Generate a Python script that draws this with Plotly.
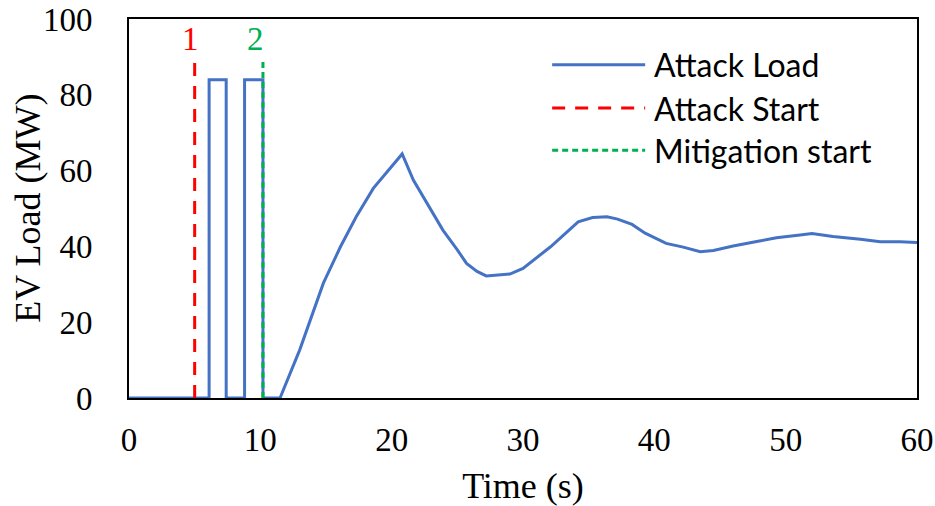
import plotly.graph_objects as go

# ---- data ----
time_s = [0, 6.1, 6.1, 7.4, 7.4, 8.8, 8.8, 10.2, 10.2, 11.5, 13.0, 14.8, 16.1, 17.3, 18.6, 19.6,
          20.8, 21.65, 22.7, 23.9, 25.0, 25.7, 26.5, 27.2, 29.0, 30.0, 32.1, 34.2, 35.3, 36.4,
          37.2, 38.3, 39.3, 40.9, 42.2, 43.5, 44.5, 46.0, 48.0, 49.3, 51.1, 52.0, 53.6, 55.7,
          57.2, 58.7, 60.0]
attack_load = [0, 0, 84, 84, 0, 0, 84, 84, 0, 0, 12.7, 30.3, 39.9, 47.8, 55.3, 59.3,
               64.4, 57.5, 51.4, 44.3, 39.1, 35.5, 33.4, 32.2, 32.7, 34.2, 39.9, 46.5, 47.6, 47.8,
               47.2, 45.8, 43.5, 40.8, 39.8, 38.6, 38.9, 40.1, 41.4, 42.3, 43.0, 43.4, 42.6, 41.9,
               41.2, 41.2, 41.0]
attack_start_t = 5.0
mitigation_start_t = 10.2
marker_top = 89
series_names = ["Attack Load", "Attack Start", "Mitigation start"]
x_ticks = [0, 10, 20, 30, 40, 50, 60]
y_ticks = [0, 20, 40, 60, 80, 100]

BLUE = "#4472C4"
RED = "#FF0000"
GREEN = "#00B050"
SERIF = "Liberation Serif, Times New Roman, serif"

fig = go.Figure()
fig.add_trace(go.Scatter(x=time_s, y=attack_load, mode="lines", name=series_names[0],
                         line=dict(color=BLUE, width=3), showlegend=False))
fig.add_trace(go.Scatter(x=[attack_start_t, attack_start_t], y=[0, marker_top], mode="lines",
                         name=series_names[1], line=dict(color=RED, width=3, dash="13px,10px"),
                         showlegend=False))
fig.add_trace(go.Scatter(x=[mitigation_start_t, mitigation_start_t], y=[0, marker_top], mode="lines",
                         name=series_names[2], line=dict(color=GREEN, width=3, dash="6px,4px"),
                         showlegend=False))

# markers "1" and "2"
fig.add_annotation(x=attack_start_t - 0.3, y=94.7, text="1", showarrow=False,
                   font=dict(family=SERIF, size=33, color=RED))
fig.add_annotation(x=mitigation_start_t - 0.6, y=94.7, text="2", showarrow=False,
                   font=dict(family=SERIF, size=33, color=GREEN))

# manual legend
leg_y = [0.879, 0.765, 0.654]
leg_colors = [BLUE, RED, GREEN]
leg_dash = ["solid", "13px,10px", "6px,4px"]
for name, yy, c, d in zip(series_names, leg_y, leg_colors, leg_dash):
    fig.add_shape(type="line", xref="paper", yref="paper", x0=0.537, x1=0.655, y0=yy, y1=yy,
                  line=dict(color=c, width=3, dash=d))
    fig.add_annotation(xref="paper", yref="paper", x=0.664, y=yy, text=name, showarrow=False,
                       xanchor="left", yanchor="middle",
                       font=dict(family="Lato, sans-serif", size=32, color="black"))

# y-axis title placed precisely
fig.add_annotation(xref="paper", yref="paper", x=-0.129, y=0.5, text="EV Load (MW)",
                   textangle=-90, showarrow=False, xanchor="center", yanchor="middle",
                   font=dict(family=SERIF, size=36, color="black"))

axis_common = dict(showgrid=False, zeroline=False, showline=True, mirror=True,
                   linecolor="black", linewidth=2, ticks="", automargin=False,
                   ticklabeloverflow="allow",
                   tickfont=dict(family=SERIF, size=33, color="black"))

fig.update_xaxes(range=[0, 60], tickvals=x_ticks, ticklabelstandoff=11,
                 title=dict(text="Time (s)", font=dict(family=SERIF, size=36, color="black"),
                            standoff=20),
                 **axis_common)
fig.update_yaxes(range=[0, 100], tickvals=y_ticks, ticklabelstandoff=28, **axis_common)

fig.update_layout(width=935, height=506, margin=dict(l=129, r=18, t=19, b=108),
                  plot_bgcolor="white", paper_bgcolor="white", showlegend=False)

# remove the page's default body margin so the figure fills the window exactly
fig.write_html("out.html", config={"displayModeBar": False},
               post_script="document.body.style.margin='0';")
